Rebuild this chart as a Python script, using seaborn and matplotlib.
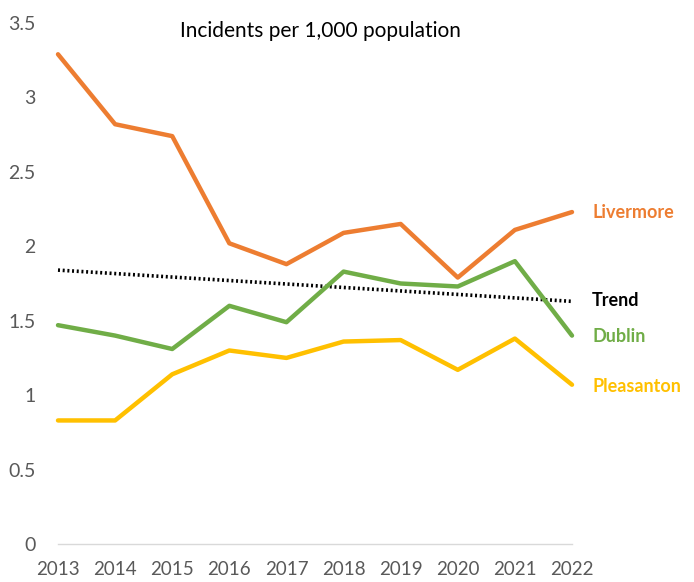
import matplotlib
matplotlib.use("Agg")
import matplotlib.pyplot as plt
import seaborn as sns
import pandas as pd

# Incidents per 1,000 population by city
years = [2013, 2014, 2015, 2016, 2017, 2018, 2019, 2020, 2021, 2022]
livermore = [3.29, 2.82, 2.74, 2.02, 1.88, 2.09, 2.15, 1.79, 2.11, 2.23]
dublin = [1.47, 1.40, 1.31, 1.60, 1.49, 1.83, 1.75, 1.73, 1.90, 1.40]
pleasanton = [0.83, 0.83, 1.14, 1.30, 1.25, 1.36, 1.37, 1.17, 1.38, 1.07]
trend_years = [2013, 2022]
trend_values = [1.84, 1.63]

cities = ["Livermore", "Dublin", "Pleasanton"]
colors = {"Livermore": "#ED7D31", "Dublin": "#70AD47", "Pleasanton": "#FFC000"}

df = pd.DataFrame({
    "year": years * 3,
    "value": livermore + dublin + pleasanton,
    "city": ["Livermore"] * 10 + ["Dublin"] * 10 + ["Pleasanton"] * 10,
})
trend_df = pd.DataFrame({"year": trend_years, "value": trend_values})

sns.set_theme(style="white")
plt.rcParams["font.family"] = ["Lato", "DejaVu Sans"]

fig = plt.figure(figsize=(6.94, 5.82), dpi=100)
ax = fig.add_axes([58 / 694, (582 - 544) / 582, (572 - 58) / 694, (544 - 23) / 582])

sns.lineplot(data=trend_df, x="year", y="value", ax=ax, color="black",
             linewidth=2.6, linestyle=(0, (0.55, 0.75)), clip_on=False, legend=False)
sns.lineplot(data=df, x="year", y="value", hue="city", hue_order=cities,
             palette=colors, ax=ax, linewidth=3.2, clip_on=False, legend=False)

ax.set_xlim(2013, 2022)
ax.set_ylim(0, 3.5)
ax.set_xticks(years)
ax.set_xticklabels([str(y) for y in years])
ax.set_yticks([0, 0.5, 1, 1.5, 2, 2.5, 3, 3.5])
ax.set_yticklabels(["0", "0.5", "1", "1.5", "2", "2.5", "3", "3.5"])
ax.set_xlabel("")
ax.set_ylabel("")

for side in ["top", "right", "left"]:
    ax.spines[side].set_visible(False)
ax.spines["bottom"].set_color("#D9D9D9")
ax.spines["bottom"].set_linewidth(1.0)

ax.tick_params(axis="x", colors="#D9D9D9", length=4, width=1, direction="out",
               labelcolor="#595959", labelsize=13.5, pad=8)
ax.tick_params(axis="y", length=0, labelcolor="#595959", labelsize=14, pad=16)
ax.grid(False)

fig.text(320 / 694, (582 - 31) / 582, "Incidents per 1,000 population",
         fontsize=15, color="black", ha="center", va="center")

# End-of-line labels
labels = [
    ("Livermore", livermore[-1], colors["Livermore"]),
    ("Trend", trend_values[-1], "black"),
    ("Dublin", dublin[-1], colors["Dublin"]),
    ("Pleasanton", pleasanton[-1], colors["Pleasanton"]),
]
offsets = {"Livermore": 0.0, "Trend": 0.007, "Dublin": -0.006, "Pleasanton": -0.01}
for name, val, col in labels:
    ax.annotate(name, xy=(2022, val + offsets[name]), xytext=(14.5, 0),
                textcoords="offset points", fontsize=13, fontweight="bold",
                color=col, va="center", ha="left", annotation_clip=False)

fig.savefig("out.png", dpi=100, facecolor="white")
